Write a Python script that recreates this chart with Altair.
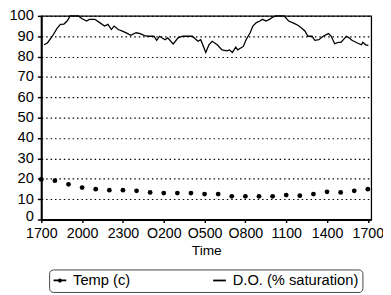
import json
import altair as alt
import pandas as pd

# ---- data ----
tick_labels = ["1700", "2000", "2300", "O200", "O500", "O800", "1100", "1400", "1700"]
series_names = ["Temp (c)", "D.O. (% saturation)"]

temp_hours = list(range(25))
temp_values = [19.7, 19.1, 17.3, 15.7, 14.9, 14.4, 14.4, 14.1, 13.3, 13.0, 13.0, 13.0,
               12.5, 12.5, 11.4, 11.4, 11.4, 11.4, 12.0, 11.7, 12.5, 13.6, 13.3, 14.1, 14.9]

do_hours = [0.2, 0.45, 0.81, 1.17, 1.41, 1.66, 1.9, 2.12, 2.73, 2.97, 3.33, 3.54, 3.94,
            4.29, 4.65, 4.9, 5.15, 5.35, 5.66, 5.96, 6.36, 6.57, 6.97, 7.27, 7.58, 7.88,
            8.28, 8.48, 8.69, 9.09, 9.29, 9.7, 10.05, 10.4, 11.11, 11.51, 11.72, 12.09,
            12.32, 12.56, 12.93, 13.28, 13.64, 13.84, 14.04, 14.29, 14.44, 14.85, 15.05,
            15.35, 15.55, 15.81, 16.06, 16.26, 16.51, 16.77, 16.97, 17.24, 17.84, 18.18,
            18.58, 18.89, 19.19, 19.39, 19.59, 19.9, 20.1, 20.4, 20.71, 21.11, 21.31,
            21.56, 21.82, 22.02, 22.42, 22.62, 22.83, 23.23, 23.53, 23.63, 23.84, 24.04]
do_values = [85.8, 86.7, 90.0, 94.0, 95.8, 96.0, 97.5, 100.0, 100.0, 98.7, 97.5, 98.3,
             98.3, 96.7, 95.0, 95.8, 93.3, 95.0, 93.3, 92.5, 91.3, 90.5, 91.7, 91.3,
             90.3, 90.0, 90.0, 88.0, 90.0, 88.3, 89.2, 86.2, 89.2, 90.0, 90.0, 87.5,
             88.3, 82.0, 85.8, 87.5, 85.8, 83.3, 82.8, 83.3, 82.0, 84.7, 83.3, 85.0,
             88.3, 91.7, 95.0, 96.7, 97.5, 98.3, 97.5, 98.3, 99.2, 100.0, 100.0, 97.5,
             96.3, 95.3, 93.7, 92.5, 90.0, 90.0, 88.0, 88.3, 90.0, 91.3, 90.0, 86.3,
             87.0, 87.0, 90.0, 89.2, 88.0, 86.7, 85.8, 87.0, 85.8, 85.5]

temp_df = pd.DataFrame({"hour": temp_hours, "value": temp_values, "series": series_names[0]})
do_df = pd.DataFrame({"hour": do_hours, "value": do_values, "series": series_names[1]})
legend_df = pd.DataFrame({"series": series_names})

FONT = "Liberation Sans"
label_expr = json.dumps(tick_labels) + "[round(datum.value / 3)]"

x_enc = alt.X(
    "hour:Q",
    scale=alt.Scale(domain=[0, 24.25], nice=False, zero=False),
    axis=alt.Axis(values=list(range(0, 25, 3)), labelExpr=label_expr, title="Time",
                  grid=False, tickSize=3, labelPadding=4, titlePadding=4,
                  labelOverlap=False, labelFlush=False, labelFontSize=14.5),
)
y_enc = alt.Y(
    "value:Q",
    scale=alt.Scale(domain=[0, 100], nice=False),
    axis=alt.Axis(values=list(range(0, 101, 10)), title=None, grid=True,
                  gridDash=[1.5, 3], gridColor="black", gridWidth=1.2, gridOpacity=1,
                  tickSize=4, labelPadding=4, labelFontSize=15,
                  labelOffset={"condition": {"test": "datum.value == 0", "value": -4}, "value": -1}),
)

do_line = alt.Chart(do_df).mark_line(color="black", strokeWidth=1.3).encode(x=x_enc, y=y_enc)
temp_pts = alt.Chart(temp_df).mark_circle(color="black", size=24, opacity=1).encode(x=x_enc, y=y_enc)

temp_sym = "M-1,0H1M-0.18,0A0.18,0.18,0,1,0,0.18,0A0.18,0.18,0,1,0,-0.18,0Z"
do_sym = "M-1,0H1"

legend_layer = alt.Chart(legend_df).mark_point(
    opacity=0, filled=False, color="black", strokeWidth=1.5
).encode(
    shape=alt.Shape(
        "series:N",
        scale=alt.Scale(domain=series_names, range=[temp_sym, do_sym]),
        legend=alt.Legend(
            title=None, orient="none", legendX=8, legendY=259, direction="horizontal",
            symbolOpacity=1, symbolStrokeColor="black",
            symbolStrokeWidth=1.8, symbolSize=169, labelOffset=6, columnPadding=80,
            padding=3.5, strokeColor="#444", cornerRadius=4,
            labelFont=FONT, labelFontSize=15, labelColor="black",
        ),
    )
)

chart = alt.layer(do_line, temp_pts, legend_layer).properties(
    width=337, height=208,
    autosize=alt.AutoSizeParams(type="none"),
    padding={"left": 34, "top": 5, "right": 12, "bottom": 73},
).configure_view(
    stroke="black", strokeWidth=1.3
).configure_axis(
    domainColor="black", domainWidth=2, tickColor="black", tickWidth=1.5,
    labelFont=FONT, labelFontSize=14, labelColor="black",
    titleFont=FONT, titleFontSize=14, titleFontWeight="normal", titleColor="black",
)

chart.save("out.html", embed_options={"renderer": "svg", "actions": False})
